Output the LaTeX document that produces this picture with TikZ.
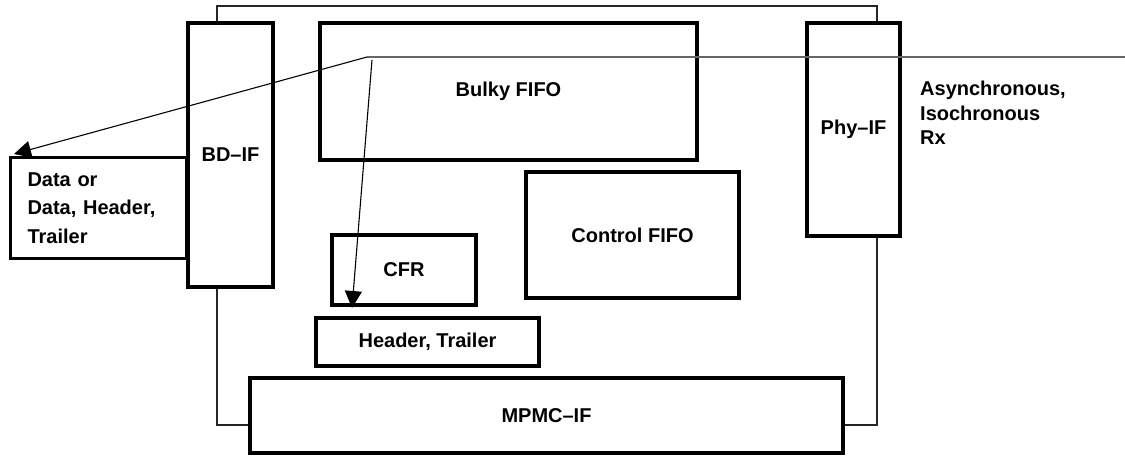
\documentclass[tikz,border=0pt]{standalone}
\usepackage{fontspec}
\setmainfont{Liberation Sans}
\usetikzlibrary{arrows.meta,calc}

\begin{document}
\begin{tikzpicture}[x=1pt,y=-1pt,>={Triangle[length=17pt,width=17pt]},
  blk/.style={draw,line width=3.3pt,fill=white,inner sep=0pt,font=\bfseries\fontsize{20}{24}\selectfont},
  lbl/.style={inner sep=0pt,align=left,font=\bfseries\fontsize{20}{24.5}\selectfont}]
\useasboundingbox (0,0) rectangle (1125,456);
% thin frame behind the blocks
\draw[line width=1.2pt,black!85] (217,6) rectangle (877,425);
% blocks
\node[blk,minimum width=85,minimum height=264] (bdif) at (230.5,155) {BD--IF};
\node[blk,minimum width=377,minimum height=137] (bulky) at (508.5,91.5) {Bulky FIFO};
\node[blk,minimum width=93,minimum height=213] (phyif) at (853.5,129.5) {Phy--IF};
\node[blk,minimum width=176,minimum height=101,text width=142,inner xsep=17,align=left,
  font=\bfseries\fontsize{20}{28.5}\selectfont] (data) at (98.5,208) {Data or\\Data, Header,\\Trailer};
\node[blk,minimum width=144,minimum height=70] (cfr) at (404,270) {CFR};
\node[blk,minimum width=223,minimum height=48] (hdr) at (427.5,342) {Header, Trailer};
\node[blk,minimum width=213,minimum height=126] (ctrl) at (632.5,235) {Control FIFO};
\node[blk,minimum width=593,minimum height=75] (mpmc) at (546.5,415.5) {MPMC--IF};
\node[lbl,anchor=west] (rx) at (920,113) {Asynchronous,\\Isochronous\\Rx};
% incoming stream and its split
\coordinate (split) at (367,57);
\coordinate (rxin) at (1125,57);
\coordinate (todata) at (14,154);
\coordinate (tohdr) at (352,308);
\draw[line width=1.5pt,black!60] (rxin) -- (split);
\draw[->,line width=1.1pt] (split) -- (todata);
\draw[->,line width=1.1pt] ($(split)+(5,3)$) -- (tohdr);
\end{tikzpicture}
\end{document}
